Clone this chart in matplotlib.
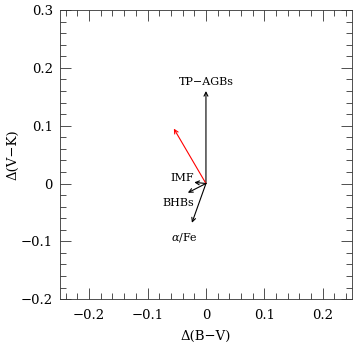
import matplotlib

matplotlib.use("Agg")
import matplotlib.pyplot as plt
from matplotlib.ticker import MultipleLocator

# arrow vectors: (label, dx, dy, label x, label y, colour)
NAMES = ["TP\u2212AGBs", "", "IMF", "BHBs", r"$\alpha$/Fe"]
DX = [0.0, -0.055, -0.020, -0.031, -0.024]
DY = [0.160, 0.095, 0.002, -0.016, -0.068]
LABEL_X = [0.0, 0.0, -0.041, -0.047, -0.037]
LABEL_Y = [0.176, 0.0, 0.010, -0.033, -0.094]
COLORS = ["black", "red", "black", "black", "black"]

plt.rcParams["font.family"] = ["DejaVu Serif"]
plt.rcParams["mathtext.fontset"] = "dejavuserif"

fig = plt.figure(figsize=(3.61, 3.49), dpi=100)
ax = fig.add_axes([0.166, 0.143, 0.809, 0.828])
ax.set_xlim(-0.25, 0.25)
ax.set_ylim(-0.2, 0.3)

for name, dx, dy, lx, ly, c in zip(NAMES, DX, DY, LABEL_X, LABEL_Y, COLORS):
    ax.annotate("", xy=(dx, dy), xytext=(0, 0),
                arrowprops=dict(arrowstyle="->", color=c, linewidth=0.8,
                                shrinkA=0, shrinkB=0, mutation_scale=7))
    if name:
        ax.text(lx, ly, name, ha="center", va="center", fontsize=8)


def fmt(v, p):
    return "0" if abs(v) < 1e-9 else f"{v:.1f}".replace("-", "\u2212")


ax.xaxis.set_major_locator(MultipleLocator(0.1))
ax.xaxis.set_minor_locator(MultipleLocator(0.02))
ax.yaxis.set_major_locator(MultipleLocator(0.1))
ax.yaxis.set_minor_locator(MultipleLocator(0.02))
ax.xaxis.set_major_formatter(fmt)
ax.yaxis.set_major_formatter(fmt)
ax.tick_params(which="both", direction="in", top=True, right=True, labelsize=9.5,
               width=0.6, color="#333333")
ax.tick_params(which="major", length=8)
ax.tick_params(which="minor", length=4)
ax.tick_params(axis="x", which="major", pad=7)
ax.tick_params(axis="y", which="major", pad=5)
for s in ax.spines.values():
    s.set_linewidth(0.6)
    s.set_color("#333333")

ax.set_xlabel("\u0394(B\u2212V)", fontsize=9.5, labelpad=6)
ax.set_ylabel("\u0394(V\u2212K)", fontsize=9.5)
ax.yaxis.set_label_coords(-0.137, 0.5)

fig.savefig("out.png", dpi=100, facecolor="white")
